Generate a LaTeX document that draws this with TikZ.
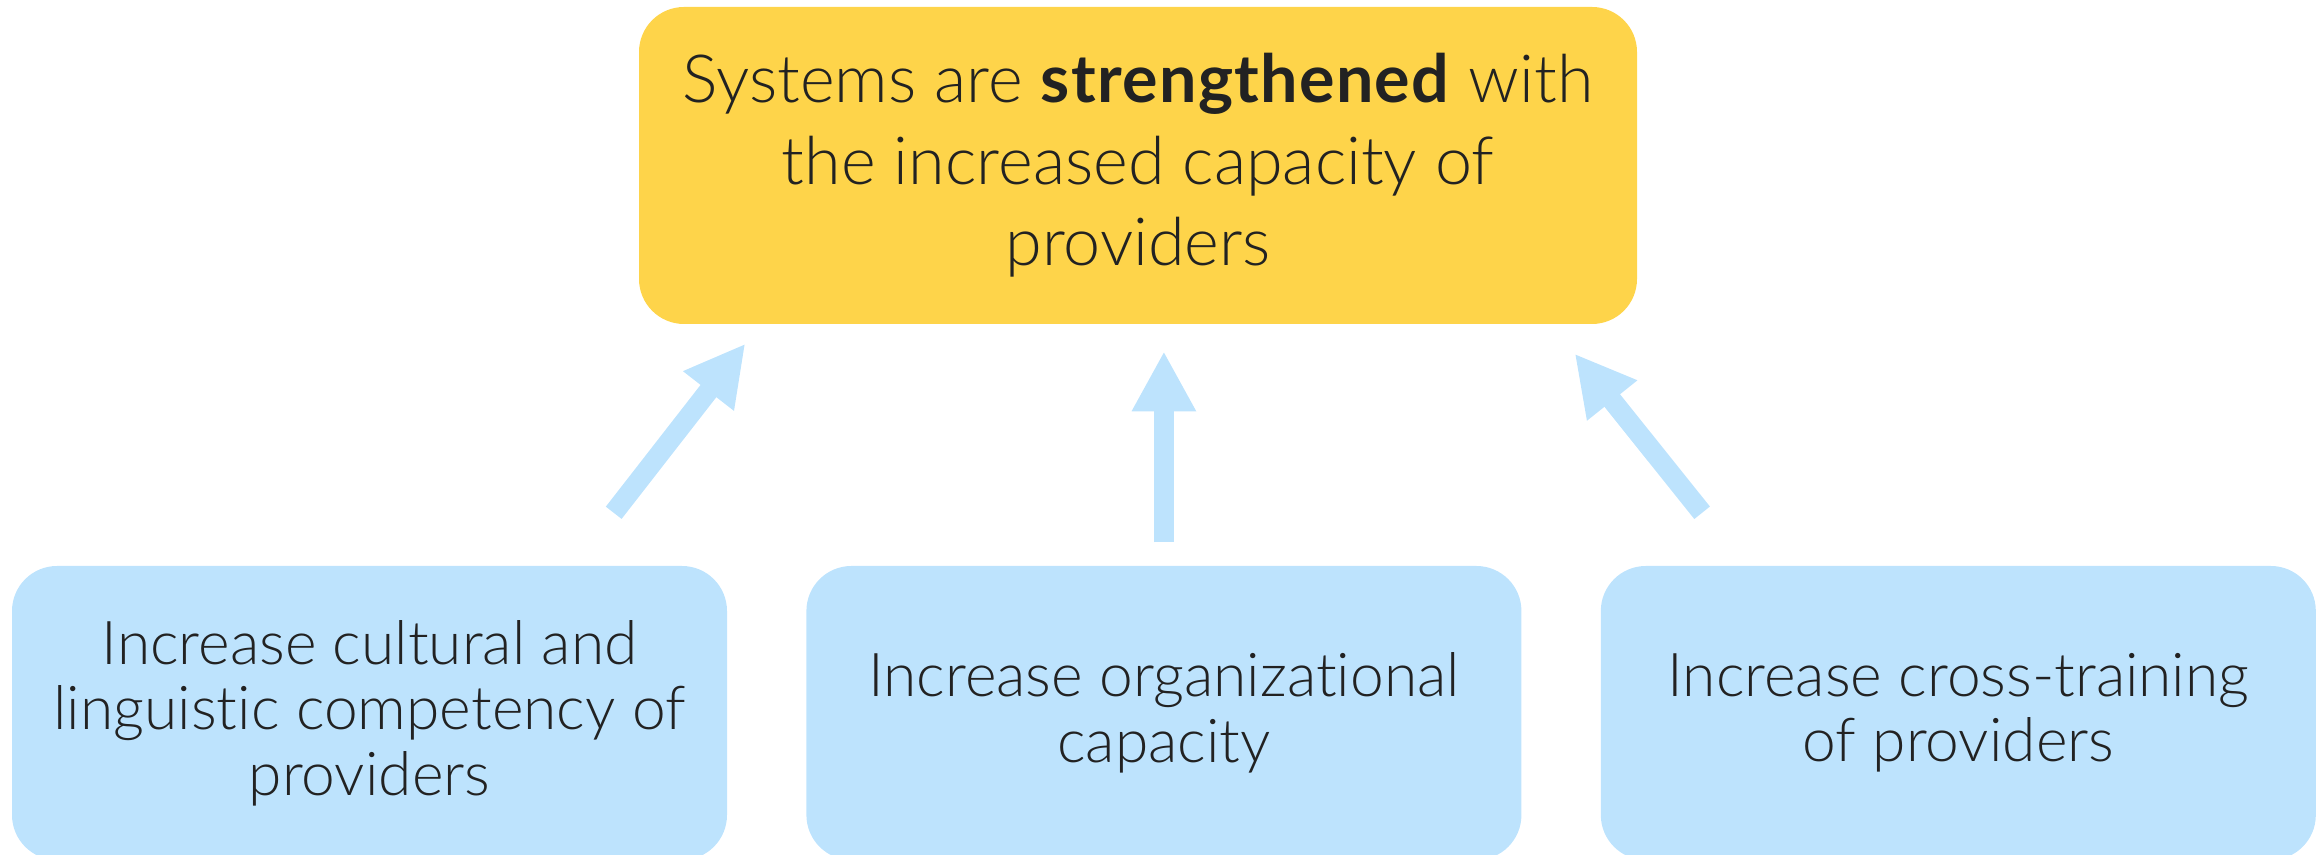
\documentclass[tikz,border=0pt]{standalone}
\usepackage{fontspec}
\setmainfont{Lato}[UprightFont=* Light, BoldFont=* Bold, Ligatures=NoCommon]
\usetikzlibrary{positioning,arrows.meta}
\definecolor{goal}{RGB}{254,212,74}
\definecolor{lever}{RGB}{189,227,253}
\definecolor{ink}{RGB}{34,34,34}
\tikzset{
  goalbox/.style={fill=goal, rounded corners=0.45cm, minimum width=9.98cm, minimum height=3.17cm,
    align=center, text=ink, font=\fontsize{18.9}{23.2}\selectfont},
  leverbox/.style={fill=lever, rounded corners=0.45cm, minimum width=7.15cm, minimum height=2.94cm,
    align=center, text=ink, font=\fontsize{17.2}{18.6}\selectfont},
  push/.style={draw=lever, line width=0.2cm, -{Triangle[length=0.6cm,width=0.6cm]}}
}

\begin{document}
\begin{tikzpicture}
\useasboundingbox (0,0) rectangle (23.21,8.55);
% goal on top
\node[goalbox] (sys) at (11.38,6.895) {Systems are \textbf{\addfontfeature{LetterSpace=2}strengthened} with\\the increased capacity of\\providers};
% the three levers
\node[leverbox] (cult) at (3.695,1.42) {Increase cultural and\\linguistic competency of\\providers};
\node[leverbox, right=0.78cm of cult] (org) {Increase organizational\\capacity};
\node[leverbox, right=0.78cm of org] (cross) {Increase cross-training\\of providers};
% arrow ends
\coordinate (cultfrom) at ([shift={(-1.14,0.525)}]cult.north east);
\coordinate (cultto) at ([shift={(1.07,-0.19)}]sys.south west);
\coordinate (orgfrom) at ([shift={(0,0.23)}]org.north);
\coordinate (orgto) at ([shift={(0,2.14)}]org.north);
\coordinate (crossfrom) at ([shift={(1.02,0.525)}]cross.north west);
\coordinate (crossto) at ([shift={(-0.63,-0.29)}]sys.south east);
\draw[push] (cultfrom) -- (cultto);
\draw[push] (orgfrom) -- (orgto);
\draw[push] (crossfrom) -- (crossto);
\end{tikzpicture}
\end{document}
